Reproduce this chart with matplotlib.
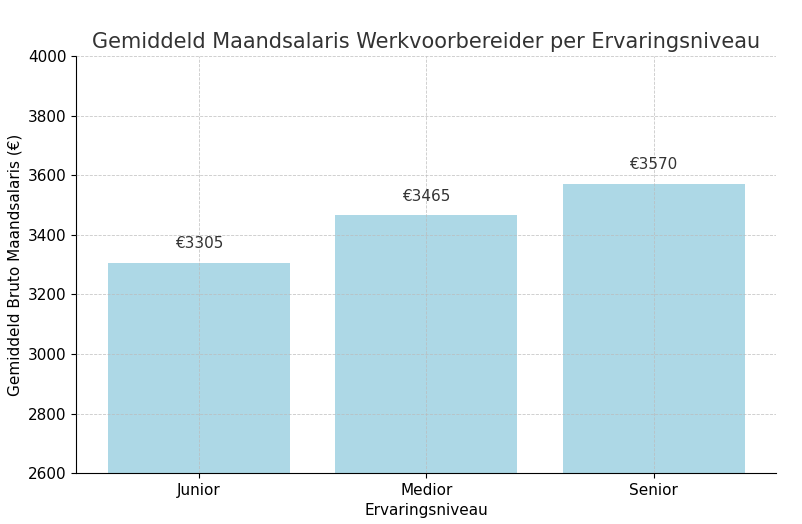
import matplotlib
matplotlib.use("Agg")
import matplotlib.pyplot as plt

categories = ["Junior", "Medior", "Senior"]
values = [3305, 3465, 3570]

fig, ax = plt.subplots(figsize=(8.02, 5.24), dpi=100)
bars = ax.bar(categories, values, color="lightblue", zorder=1)
ax.set_ylim(2600, 4000)
for b, v in zip(bars, values):
    ax.text(b.get_x() + b.get_width() / 2, v + 40, f"€{v}", ha="center", va="bottom", fontsize=11, color="#333333")
ax.set_title("Gemiddeld Maandsalaris Werkvoorbereider per Ervaringsniveau", fontsize=15, color="#333333")
ax.set_xlabel("Ervaringsniveau", fontsize=11)
ax.set_ylabel("Gemiddeld Bruto Maandsalaris (€)", fontsize=11)
ax.grid(True, linestyle="--", linewidth=0.6, color="#bbbbbb", alpha=0.8, zorder=2)
ax.set_axisbelow(False)
for s in ["top", "right"]:
    ax.spines[s].set_visible(False)
ax.tick_params(labelsize=11)
fig.subplots_adjust(left=0.095, right=0.968, top=0.893, bottom=0.097)
fig.savefig("out.png")
